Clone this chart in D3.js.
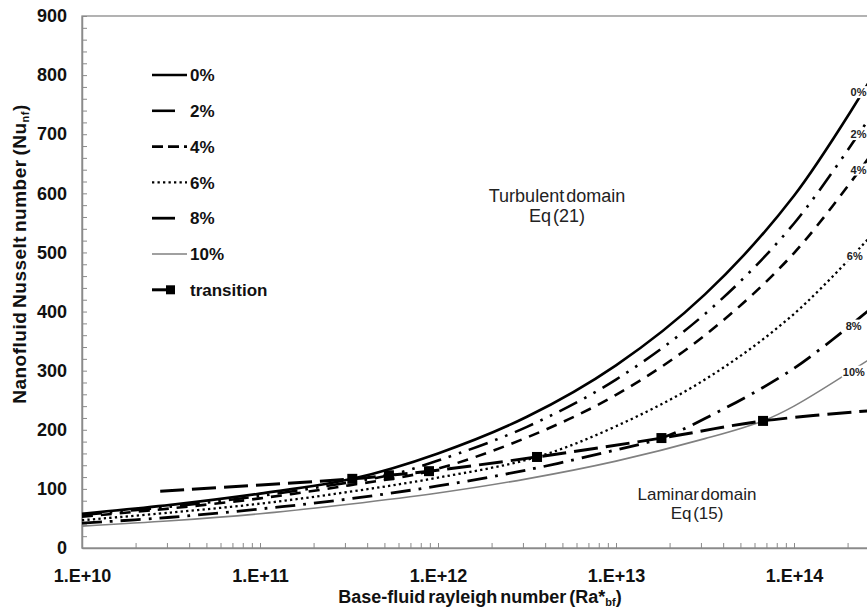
<!DOCTYPE html>
<html>
<head>
<meta charset="utf-8">
<script src="https://cdnjs.cloudflare.com/ajax/libs/d3/7.8.5/d3.min.js"></script>
<style>
  body { margin: 0; background: white; }
  svg { display: block; }
  text { font-family: "Liberation Sans", Arial, sans-serif; }
</style>
</head>
<body>
<div id="container"></div>
<script>
let w = 867;
let h = 614;

///////////////////////////
// data

let seriesNames = ["0%", "2%", "4%", "6%", "8%", "10%"];

let ra0 = [1e10, 3.16e10, 1e11, 3.3e11, 1e12, 3.16e12, 1e13, 3.16e13, 1e14, 3.16e14];
let nu0 = [58, 73, 92, 117, 160, 222, 309, 429, 596, 827];

let ra2 = [1e10, 3.16e10, 1e11, 3.16e11, 5.3e11, 1e12, 3.16e12, 1e13, 3.16e13, 1e14, 3.16e14];
let nu2 = [56, 70, 88, 111, 123, 148, 205, 285, 396, 549, 762];

let ra4 = [1e10, 3.16e10, 1e11, 3.16e11, 8.9e11, 3.16e12, 1e13, 3.16e13, 1e14, 3.16e14];
let nu4 = [53, 67, 84, 106, 130, 187, 259, 360, 499, 693];

let ra6 = [1e10, 3.16e10, 1e11, 3.16e11, 1e12, 3.6e12, 1e13, 3.16e13, 1e14, 3.16e14];
let nu6 = [47, 60, 75, 95, 119, 154, 206, 285, 396, 550];

let ra8 = [1e10, 3.16e10, 1e11, 3.16e11, 1e12, 3.16e12, 1e13, 1.8e13, 3.16e13, 1e14, 3.16e14];
let nu8 = [42, 52, 66, 83, 105, 132, 166, 186, 219, 304, 422];

let ra10 = [1e10, 3.16e10, 1e11, 3.16e11, 1e12, 3.16e12, 1e13, 3.16e13, 6.7e13, 1e14, 3.16e14];
let nu10 = [37, 46, 58, 74, 93, 117, 147, 185, 215, 240, 334];

// transition line; the squares sit on the inner points
let transRa = [2.75e10, 3.3e11, 5.3e11, 8.9e11, 3.6e12, 1.8e13, 6.7e13, 3.16e14];
let transNu = [96, 117, 123, 130, 154, 186, 215, 234];

// data labels at the right end of each curve
let labelRa = [2.08e14, 2.08e14, 2.08e14, 1.98e14, 1.95e14, 1.88e14];
let labelNu = [771, 700, 640, 494, 376, 298];

let xMajor = [1e10, 1e11, 1e12, 1e13, 1e14];
let yMajor = [0, 100, 200, 300, 400, 500, 600, 700, 800, 900];

///////////////////////////

let allRa = [ra0, ra2, ra4, ra6, ra8, ra10];
let allNu = [nu0, nu2, nu4, nu6, nu8, nu10];

let styles = [
  { color: "#000", width: 2.6, dash: null, legendDash: null },
  { color: "#000", width: 2.6, dash: "20,8,2.6,8,2.6,8", legendDash: "23,30" },
  { color: "#000", width: 2.6, dash: "11,8", legendDash: "11,5" },
  { color: "#000", width: 2.3, dash: "2.3,3.2", legendDash: "2.3,3.2" },
  { color: "#000", width: 2.8, dash: "20,8,2.8,8", legendDash: "23,30" },
  { color: "#808080", width: 1.6, dash: null, legendDash: null }
];

let viz = d3.select("#container").append("svg")
    .attr("width", w)
    .attr("height", h)
    .style("background-color", "white")
;

let xScale = d3.scaleLog().domain([1e10, 1e15]).range([82, 972]);
let yScale = d3.scaleLinear().domain([0, 900]).range([548, 16]);

// plot frame
viz.append("rect")
  .attr("x", xScale(1e10))
  .attr("y", yScale(900))
  .attr("width", xScale(1e15) - xScale(1e10))
  .attr("height", yScale(0) - yScale(900))
  .attr("fill", "none")
  .attr("stroke", "#8a8a8a")
  .attr("stroke-width", 1.3)
;

// y axis, minor ticks every 20
let yTickVals = d3.range(0, 901, 20);
let yAxis = d3.axisLeft(yScale)
  .tickValues(yTickVals)
  .tickSizeInner(-5)
  .tickSizeOuter(0)
  .tickPadding(15)
  .tickFormat(function(d){ return yMajor.indexOf(d) >= 0 ? d : ""; });

let gy = viz.append("g")
  .attr("transform", "translate(" + xScale(1e10) + ",0)")
  .call(yAxis);

// x axis, log minor ticks
let xTickVals = [];
for (let e = 10; e < 15; e++) {
  for (let m = 1; m < 10; m++) {
    xTickVals.push(m * Math.pow(10, e));
  }
}
let xAxis = d3.axisBottom(xScale)
  .tickValues(xTickVals)
  .tickSizeInner(-5)
  .tickSizeOuter(0)
  .tickPadding(21)
  .tickFormat(function(d){
    let e = Math.round(Math.log10(d));
    return Math.abs(d - Math.pow(10, e)) < 1 ? "1.E+" + e : "";
  });

let gx = viz.append("g")
  .attr("transform", "translate(0," + yScale(0) + ")")
  .call(xAxis);

[gx, gy].forEach(function(g){
  g.selectAll("path.domain").attr("stroke", "#8a8a8a").attr("stroke-width", 1.5);
  g.selectAll(".tick line").attr("stroke", "#8a8a8a").attr("stroke-width", 1);
  g.selectAll(".tick text")
    .attr("fill", "#111")
    .style("font-size", "18px")
    .style("font-weight", "bold")
    .style("font-family", "'Liberation Sans', Arial, sans-serif");
});

// curves
let line = d3.line()
  .x(function(d){ return xScale(d[0]); })
  .y(function(d){ return yScale(d[1]); })
  .curve(d3.curveCatmullRom.alpha(0.5));

for (let i = 0; i < allRa.length; i++) {
  let pts = allRa[i].map(function(r, j){ return [r, allNu[i][j]]; });
  viz.append("path")
    .datum(pts)
    .attr("d", line)
    .attr("fill", "none")
    .attr("stroke", styles[i].color)
    .attr("stroke-width", styles[i].width)
    .attr("stroke-dasharray", styles[i].dash)
  ;
}

// transition line
let transPts = transRa.map(function(r, j){ return [r, transNu[j]]; });
viz.append("path")
  .datum(transPts)
  .attr("d", line)
  .attr("fill", "none")
  .attr("stroke", "#000")
  .attr("stroke-width", 3)
  .attr("stroke-dasharray", "24,8")
;
viz.selectAll(".marker").data(transPts.slice(1, transPts.length - 1))
  .enter()
  .append("rect")
    .attr("class", "marker")
    .attr("x", function(d){ return xScale(d[0]) - 5; })
    .attr("y", function(d){ return yScale(d[1]) - 5; })
    .attr("width", 10)
    .attr("height", 10)
    .attr("fill", "#000")
;

// right-hand data labels
for (let i = 0; i < seriesNames.length; i++) {
  let lx = xScale(labelRa[i]);
  let ly = yScale(labelNu[i]);
  let t = viz.append("text")
    .attr("x", lx)
    .attr("y", ly)
    .attr("dy", "0.35em")
    .style("font-size", "11px")
    .style("font-weight", "bold")
    .attr("fill", "#222")
    .text(seriesNames[i]);
  let bb = t.node().getBBox();
  viz.insert("rect", function(){ return t.node(); })
    .attr("x", bb.x - 1)
    .attr("y", bb.y)
    .attr("width", bb.width + 20)
    .attr("height", bb.height)
    .attr("fill", "white");
}

// legend
let legendTop = 75;
let legendStep = 35.8;
for (let i = 0; i < seriesNames.length; i++) {
  let ly = legendTop + i * legendStep;
  viz.append("line")
    .attr("x1", 152).attr("x2", 187)
    .attr("y1", ly).attr("y2", ly)
    .attr("stroke", styles[i].color)
    .attr("stroke-width", styles[i].width)
    .attr("stroke-dasharray", styles[i].legendDash);
  viz.append("text")
    .attr("x", 190)
    .attr("y", ly)
    .attr("dy", "0.36em")
    .style("font-size", "17px")
    .style("font-weight", "bold")
    .attr("fill", "#111")
    .text(seriesNames[i]);
}
let ty = legendTop + 6 * legendStep;
viz.append("line")
  .attr("x1", 152).attr("x2", 170)
  .attr("y1", ty).attr("y2", ty)
  .attr("stroke", "#000")
  .attr("stroke-width", 3);
viz.append("rect")
  .attr("x", 166).attr("y", ty - 4.5)
  .attr("width", 9).attr("height", 9)
  .attr("fill", "#000");
viz.append("text")
  .attr("x", 190)
  .attr("y", ty)
  .attr("dy", "0.36em")
  .style("font-size", "17px")
  .style("font-weight", "bold")
  .attr("fill", "#111")
  .text("transition");

// domain notes
function note(x, y, txt, size) {
  viz.append("text")
    .attr("x", x)
    .attr("y", y)
    .attr("text-anchor", "middle")
    .style("font-size", size + "px")
    .style("word-spacing", "-3px")
    .attr("fill", "#222")
    .text(txt);
}
note(557, 202, "Turbulent domain", 18);
note(557, 222, "Eq (21)", 18);
note(697, 500, "Laminar domain", 17);
note(697, 519, "Eq (15)", 17);

// axis titles
let xt = viz.append("text")
  .attr("x", 480)
  .attr("y", 603)
  .attr("text-anchor", "middle")
  .style("font-size", "18px")
  .style("font-weight", "bold")
  .style("word-spacing", "-2px")
  .attr("fill", "#111");
xt.append("tspan").text("Base-fluid rayleigh number (Ra*");
xt.append("tspan").attr("baseline-shift", "-3").style("font-size", "11px").text("bf");
xt.append("tspan").attr("baseline-shift", "0").text(")");

let yt = viz.append("text")
  .attr("transform", "translate(26,254) rotate(-90)")
  .attr("text-anchor", "middle")
  .style("font-size", "19px")
  .style("font-weight", "bold")
  .style("letter-spacing", "0.5px")
  .style("word-spacing", "-2px")
  .attr("fill", "#111");
yt.append("tspan").text("Nanofluid Nusselt number (Nu");
yt.append("tspan").attr("baseline-shift", "-3").style("font-size", "11px").text("nf");
yt.append("tspan").attr("baseline-shift", "0").text(")");

console.log("loaded");
</script>
</body>
</html>
